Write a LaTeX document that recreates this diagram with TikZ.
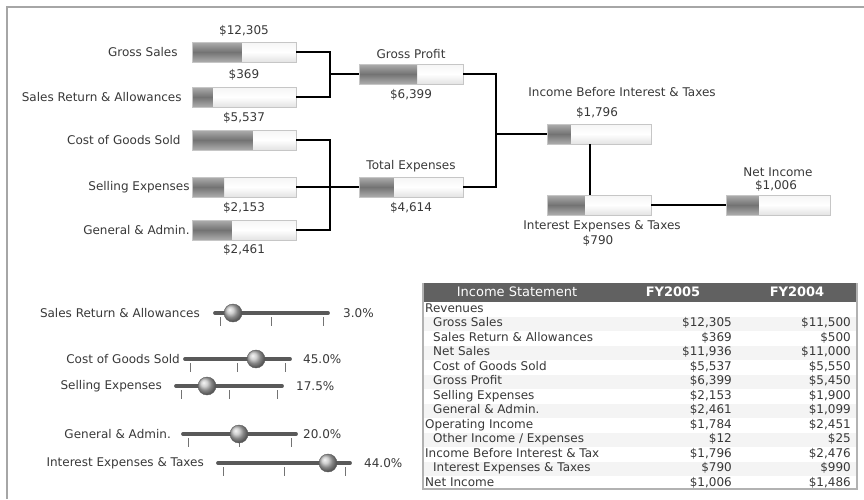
\documentclass[tikz,border=0pt]{standalone}
\usepackage{fontspec}
\setmainfont{DejaVu Sans}
\usetikzlibrary{positioning,calc}

\begin{document}
\begin{tikzpicture}[
  x=1pt,y=-1pt,
  every node/.style={font=\fontsize{12}{14}\selectfont,text=black!78,inner sep=1pt},
  bar/.style={draw=gray!45,minimum width=104pt,minimum height=20pt,inner sep=0pt,
              top color=gray!8,bottom color=gray!22,middle color=white},
  level/.style={path picture={
      \shade[top color=black!32,bottom color=black!32,middle color=black!55]
        (path picture bounding box.north west) rectangle
        ($(path picture bounding box.south west)!#1!(path picture bounding box.south east)$);}},
  link/.style={draw=black,line width=1.8pt},
  track/.style={draw=black!65,line width=3.8pt,line cap=round},
  tickmark/.style={draw=black!55,line width=.8pt},
  knob/.style={circle,minimum size=18pt,inner sep=0pt,ball color=gray!50,draw=gray!70!black},
  hdr/.style={text=white,font=\fontsize{13}{15}\selectfont},
  cell/.style={inner sep=0pt,text height=9pt,text depth=2.5pt}
]
\useasboundingbox (0,0) rectangle (864,499);
\draw[gray!70,line width=2pt] (7,499) -- (7,7) -- (866,7);

% bars
\node[bar,level=.48] (gs) at (244,52) {};
\node[bar,level=.20] (sra) at (244,97) {};
\node[bar,level=.58] (cogs) at (244,140) {};
\node[bar,level=.31] (sell) at (244,187) {};
\node[bar,level=.38] (ga) at (244,230) {};
\node[bar,level=.56] (gp) at (411,74) {};
\node[bar,level=.33] (tot) at (411,187) {};
\node[bar,level=.23] (ibit) at (599,134) {};
\node[bar,level=.36] (iet) at (599,205) {};
\node[bar,level=.31] (ni) at (778,205) {};

\node[left=13pt of gs] (gsl) {Gross Sales};
\node[left=9pt of sra] (sral) {Sales Return \& Allowances};
\node[left=10pt of cogs] (cogsl) {Cost of Goods Sold};
\node[left=1pt of sell] (selll) {Selling Expenses};
\node[left=1pt of ga] (gal) {General \& Admin.};

\node (gsv) at (244,31) {\$12,305};
\node (srav) at (244,75) {\$369};
\node (cogsv) at (244,118) {\$5,537};
\node (sellv) at (244,208) {\$2,153};
\node (gav) at (244,250) {\$2,461};
\node (gpl) at (411,54) {Gross Profit};
\node (gpv) at (411,95) {\$6,399};
\node (totl) at (411,166) {Total Expenses};
\node (totv) at (411,208) {\$4,614};
\node (ibitl) at (622,92) {Income Before Interest \& Taxes};
\node (ibitv) at (597,113) {\$1,796};
\node (ietl) at (602,226) {Interest Expenses \& Taxes};
\node (ietv) at (598,241) {\$790};
\node (nil) at (778,172) {Net Income};
\node (niv) at (776,186) {\$1,006};

% connectors
\coordinate (j1) at (330,74);
\coordinate (j2) at (330,187);
\coordinate (j3) at (496,134);
\draw[link] (gs.east) -| (j1) |- (sra.east);
\draw[link] (j1) -- (gp.west);
\draw[link] (cogs.east) -| (j2) |- (ga.east);
\draw[link] (sell.east) -- (tot.west);
\draw[link] (gp.east) -| (j3) |- (tot.east);
\draw[link] (j3) -- (ibit.west);
\draw[link] ([xshift=-9pt]ibit.south) -- ([xshift=-9pt]iet.north);
\draw[link] (iet.east) -- (ni.west);

% sliders
\foreach \t/\l/\y/\s/\e/\k/\v/\p [count=\i] in {
  {Sales Return \& Allowances}/201/313/215/328/233/342/3.0\%,
  {Cost of Goods Sold}/181/359/185/290/256/302/45.0\%,
  {Selling Expenses}/163/386/176/282/207/295/17.5\%,
  {General \& Admin.}/172/434/183/296/239/302/20.0\%,
  {Interest Expenses \& Taxes}/205/463/218/350/328/363/44.0\%}{
  \coordinate (ta\i) at (\s,\y);
  \coordinate (tb\i) at (\e,\y);
  \node[anchor=east] (sl\i) at (\l,\y) {\t};
  \draw[tickmark] ($(ta\i)+(5,4)$) -- ($(ta\i)+(5,13)$)
                  ($(ta\i)!.5!(tb\i)+(0,4)$) -- ($(ta\i)!.5!(tb\i)+(0,13)$)
                  ($(tb\i)+(-5,4)$) -- ($(tb\i)+(-5,13)$);
  \draw[track] (ta\i) -- (tb\i);
  \node[knob] (kn\i) at (\k,\y) {};
  \node[anchor=west] (sv\i) at (\v,\y) {\p};
}

% table
\fill[black!62] (423,283) rectangle (857,302);
\foreach \r in {1,3,...,11}
  \fill[gray!9] (424,{302+14.5*\r}) rectangle (856,{302+14.5*(\r+1)});
\node[hdr] (hd0) at (517,292) {Income Statement};
\node[hdr,font=\fontsize{13}{15}\selectfont\bfseries] (hd1) at (673,292) {FY2005};
\node[hdr,font=\fontsize{13}{15}\selectfont\bfseries] (hd2) at (797,292) {FY2004};
\begin{scope}
\clip (423,302) rectangle (598,490);
\foreach \n/\d [count=\r from 0] in {
  Revenues/0, {Gross Sales}/1, {Sales Return \& Allowances}/1, {Net Sales}/1,
  {Cost of Goods Sold}/1, {Gross Profit}/1, {Selling Expenses}/1,
  {General \& Admin.}/1, {Operating Income}/0, {Other Income / Expenses}/1,
  {Income Before Interest \& Taxes}/0, {Interest Expenses \& Taxes}/1,
  {Net Income}/0}
  \node[cell,anchor=west] (rl\r) at ({425+8*\d},{309+14.5*\r}) {\n};
\end{scope}
\foreach \a/\b [count=\r] in {
  {\$12,305}/{\$11,500}, {\$369}/{\$500}, {\$11,936}/{\$11,000},
  {\$5,537}/{\$5,550}, {\$6,399}/{\$5,450}, {\$2,153}/{\$1,900},
  {\$2,461}/{\$1,099}, {\$1,784}/{\$2,451}, {\$12}/{\$25},
  {\$1,796}/{\$2,476}, {\$790}/{\$990}, {\$1,006}/{\$1,486}}{
  \node[cell,anchor=east] (ra\r) at (732,{309+14.5*\r}) {\a};
  \node[cell,anchor=east] (rb\r) at (851,{309+14.5*\r}) {\b};
}
\draw[gray!60,line width=1.2pt] (423,283) -- (423,489) -- (857,489) -- (857,283);
\end{tikzpicture}
\end{document}
